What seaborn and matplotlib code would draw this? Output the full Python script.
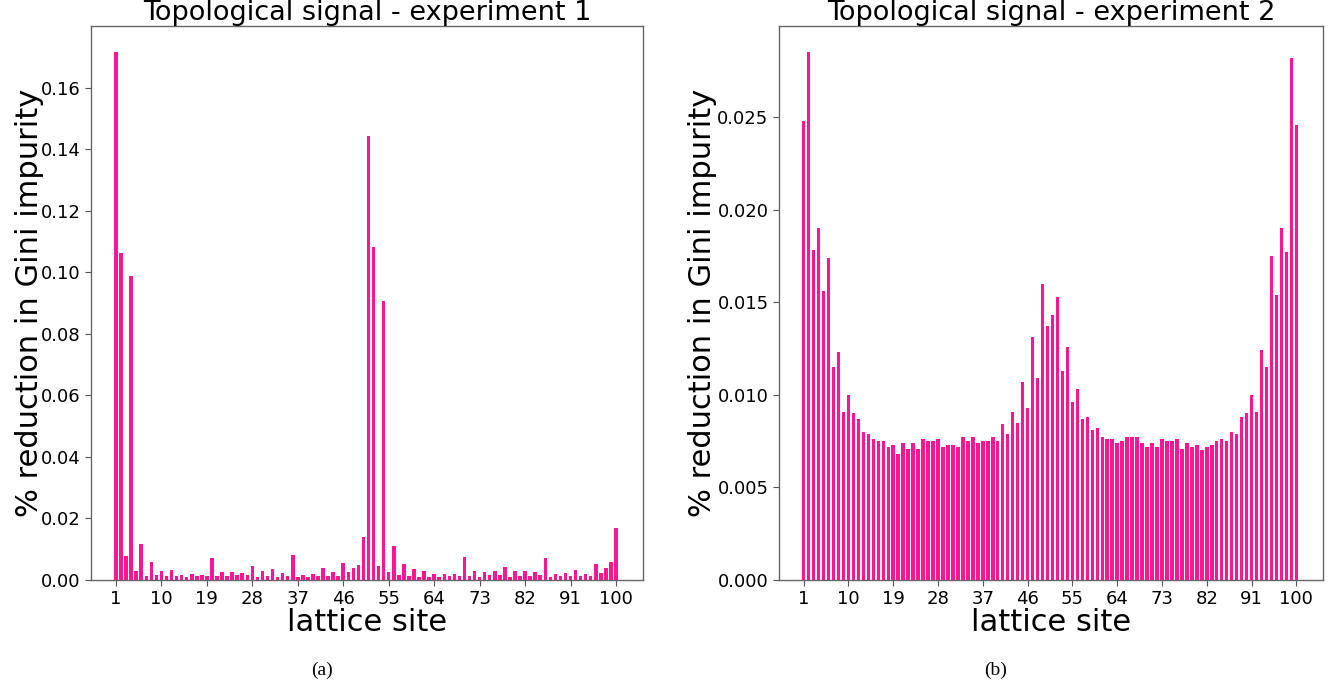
import numpy as np
import pandas as pd
import matplotlib
matplotlib.use("Agg")
import matplotlib.pyplot as plt
import seaborn as sns

sites = list(range(1, 101))
tick_labels = [1, 10, 19, 28, 37, 46, 55, 64, 73, 82, 91, 100]

exp1 = [0.1715, 0.1062, 0.0078, 0.0988, 0.0029, 0.0117, 0.0013, 0.0058, 0.0016, 0.0029,
        0.0013, 0.0032, 0.0013, 0.0017, 0.0011, 0.0020, 0.0013, 0.0017, 0.0013, 0.0071,
        0.0013, 0.0025, 0.0013, 0.0027, 0.0016, 0.0023, 0.0015, 0.0044, 0.0011, 0.0029,
        0.0013, 0.0036, 0.0011, 0.0023, 0.0013, 0.0081, 0.0010, 0.0015, 0.0011, 0.0020,
        0.0013, 0.0038, 0.0013, 0.0025, 0.0013, 0.0054, 0.0025, 0.0040, 0.0049, 0.0140,
        0.1443, 0.1082, 0.0047, 0.0908, 0.0025, 0.0110, 0.0015, 0.0052, 0.0013, 0.0036,
        0.0011, 0.0029, 0.0011, 0.0020, 0.0011, 0.0020, 0.0013, 0.0020, 0.0013, 0.0075,
        0.0013, 0.0029, 0.0011, 0.0027, 0.0015, 0.0029, 0.0015, 0.0042, 0.0011, 0.0029,
        0.0013, 0.0029, 0.0013, 0.0025, 0.0015, 0.0071, 0.0011, 0.0020, 0.0013, 0.0023,
        0.0013, 0.0032, 0.0013, 0.0020, 0.0013, 0.0052, 0.0023, 0.0040, 0.0058, 0.0169]

exp2 = [0.0248, 0.0285, 0.0178, 0.0190, 0.0156, 0.0174, 0.0115, 0.0123, 0.0091, 0.0100,
        0.0090, 0.0087, 0.0080, 0.0079, 0.0076, 0.0075, 0.0075, 0.0072, 0.0073, 0.0068,
        0.0074, 0.0071, 0.0074, 0.0071, 0.0076, 0.0075, 0.0075, 0.0076, 0.0072, 0.0073,
        0.0073, 0.0072, 0.0077, 0.0075, 0.0077, 0.0074, 0.0075, 0.0075, 0.0077, 0.0075,
        0.0084, 0.0079, 0.0091, 0.0085, 0.0107, 0.0093, 0.0131, 0.0109, 0.0160, 0.0137,
        0.0143, 0.0153, 0.0113, 0.0126, 0.0096, 0.0103, 0.0087, 0.0088, 0.0081, 0.0082,
        0.0077, 0.0076, 0.0076, 0.0074, 0.0075, 0.0077, 0.0077, 0.0077, 0.0074, 0.0072,
        0.0074, 0.0072, 0.0076, 0.0075, 0.0075, 0.0076, 0.0071, 0.0074, 0.0072, 0.0073,
        0.0070, 0.0072, 0.0073, 0.0075, 0.0076, 0.0075, 0.0080, 0.0079, 0.0088, 0.0090,
        0.0100, 0.0091, 0.0124, 0.0115, 0.0175, 0.0154, 0.0190, 0.0177, 0.0282, 0.0246]

titles = ["Topological signal - experiment 1", "Topological signal - experiment 2"]
captions = ["(a)", "(b)"]

plt.rcParams['font.family'] = ['DejaVu Sans']

fig = plt.figure(figsize=(13.35, 6.88), dpi=100)
W, H = 1335, 688
ax1 = fig.add_axes([91 / W, (H - 580) / H, 552 / W, 554 / H])
ax2 = fig.add_axes([779 / W, (H - 580) / H, 544 / W, 554 / H])

color = '#FF1493'
for ax, vals, title, fmt, ylx in [(ax1, exp1, titles[0], '%.2f', -0.086),
                                  (ax2, exp2, titles[1], '%.3f', -0.114)]:
    df = pd.DataFrame({'site': sites, 'value': vals})
    sns.barplot(data=df, x='site', y='value', color=color, saturation=1,
                width=0.7, ax=ax, errorbar=None)
    ax.set_xlim(-4.95, 104.35)
    ax.set_ylim(0, max(vals) * 1.05)
    ax.set_xticks([t - 1 for t in tick_labels])
    ax.set_xticklabels([str(t) for t in tick_labels])
    ax.yaxis.set_major_formatter(matplotlib.ticker.FormatStrFormatter(fmt))
    ax.tick_params(axis='both', labelsize=13, length=4, color='#555555')
    ax.set_title(title, fontsize=19.5, pad=2)
    ax.set_xlabel('lattice site', fontsize=22, labelpad=0)
    ax.set_ylabel('% reduction in Gini impurity', fontsize=22)
    ax.yaxis.set_label_coords(ylx, 0.5)
    for sp in ax.spines.values():
        sp.set_color('#666666')
        sp.set_linewidth(1.0)

ax1.set_yticks(np.arange(0, 0.17, 0.02))
ax2.set_yticks(np.arange(0, 0.0251, 0.005))

fig.text(322 / W, 1 - 670 / H, captions[0], family='Liberation Serif', fontsize=14,
         ha='center', va='center')
fig.text(996 / W, 1 - 670 / H, captions[1], family='Liberation Serif', fontsize=14,
         ha='center', va='center')

fig.savefig('out.png', dpi=100)
